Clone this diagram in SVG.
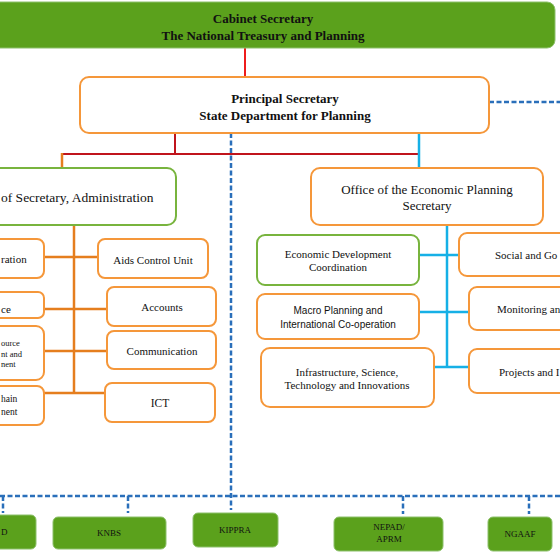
<svg xmlns="http://www.w3.org/2000/svg" width="560" height="560" viewBox="0 0 560 560">
<style>
.bg{fill:#ffffff}
.ob{fill:#ffffff;stroke:#f5973a;stroke-width:2}
.gb{fill:#ffffff;stroke:#78b43e;stroke-width:2}
.gf{fill:#5ba11c;stroke:#8cc06a;stroke-width:1}
.t{font-family:"Liberation Serif","Times New Roman",serif;fill:#111111;text-anchor:middle}
.s{font-family:"Liberation Sans",Arial,sans-serif;fill:#111111;text-anchor:middle}
.st{text-anchor:start}
.b{font-weight:bold}
.red{stroke:#ee1c1c;stroke-width:2;fill:none}
.dred{stroke:#c0141c;stroke-width:2;fill:none}
.org{stroke:#e57e1e;stroke-width:2.5;fill:none}
.cy{stroke:#16b0e6;stroke-width:2.5;fill:none}
.dash{stroke:#2a6fba;stroke-width:2.5;stroke-dasharray:5 2.5;fill:none}
</style>
<rect class="bg" x="0" y="0" width="560" height="560"/>

<g id="connectors">
  <line class="red" x1="245" y1="48" x2="245" y2="77"/>
  <line class="dash" x1="489" y1="102" x2="560" y2="102"/>
  <line class="dred" x1="175" y1="133" x2="175" y2="154"/>
  <line class="dred" x1="62" y1="154" x2="419" y2="154"/>
  <line class="org" x1="62" y1="153" x2="62" y2="168"/>
  <line class="cy" x1="419" y1="133" x2="419" y2="168"/>
  <line class="dash" x1="231" y1="133" x2="231" y2="510"/>
  <line class="dash" x1="0" y1="496" x2="560" y2="496"/>
  <line class="dash" x1="3" y1="496" x2="3" y2="513"/>
  <line class="dash" x1="128" y1="496" x2="128" y2="513"/>
  <line class="dash" x1="403" y1="496" x2="403" y2="514"/>
  <line class="dash" x1="529" y1="496" x2="529" y2="514"/>
  <line class="org" x1="74" y1="225" x2="74" y2="393"/>
  <line class="org" x1="44" y1="257" x2="98" y2="257"/>
  <line class="org" x1="44" y1="309" x2="107" y2="309"/>
  <line class="org" x1="44" y1="351" x2="107" y2="351"/>
  <line class="org" x1="44" y1="393" x2="105" y2="393"/>
  <line class="cy" x1="447" y1="225" x2="447" y2="368"/>
  <line class="cy" x1="419" y1="255" x2="459" y2="255"/>
  <line class="cy" x1="419" y1="312" x2="469" y2="312"/>
  <line class="cy" x1="434" y1="367" x2="469" y2="367"/>
</g>

<g id="cabinet">
  <rect class="gf" x="-12" y="2" width="567" height="46" rx="8"/>
  <text class="t b" x="263" y="23" font-size="13">Cabinet Secretary</text>
  <text class="t b" x="263" y="40" font-size="13">The National Treasury and Planning</text>
</g>

<g id="principal">
  <rect class="ob" x="80" y="77" width="409" height="56" rx="9"/>
  <text class="t b" x="285" y="103" font-size="13">Principal Secretary</text>
  <text class="t b" x="285" y="120" font-size="13">State Department for Planning</text>
</g>

<g id="admin">
  <rect class="gb" x="-20" y="168" width="196" height="57" rx="9"/>
  <text class="t st" x="1" y="202" font-size="13.5">of Secretary, Administration</text>
</g>

<g id="administration">
  <rect class="ob" x="-20" y="239" width="64" height="39" rx="7"/>
  <text class="t st" x="1" y="263" font-size="11">ration</text>
</g>
<g id="finance">
  <rect class="ob" x="-20" y="292" width="64" height="26" rx="6"/>
  <text class="t st" x="1" y="313" font-size="11">ce</text>
</g>
<g id="hr">
  <rect class="ob" x="-20" y="326" width="64" height="54" rx="8"/>
  <text class="t st" x="1" y="346" font-size="8.5">ource</text>
  <text class="t st" x="1" y="357" font-size="8.5">nt and</text>
  <text class="t st" x="1" y="367" font-size="8.5">nent</text>
</g>
<g id="supply">
  <rect class="ob" x="-20" y="386" width="64" height="39" rx="7"/>
  <text class="t st" x="1" y="402" font-size="9.5">hain</text>
  <text class="t st" x="1" y="415" font-size="9.5">nent</text>
</g>

<g id="aids">
  <rect class="ob" x="98" y="239" width="110" height="39" rx="7"/>
  <text class="t" x="153" y="264" font-size="11">Aids Control Unit</text>
</g>
<g id="accounts">
  <rect class="ob" x="107" y="287" width="109" height="39" rx="7"/>
  <text class="t" x="162" y="311" font-size="11">Accounts</text>
</g>
<g id="communication">
  <rect class="ob" x="107" y="331" width="109" height="38" rx="7"/>
  <text class="t" x="162" y="355" font-size="11">Communication</text>
</g>
<g id="ict">
  <rect class="ob" x="105" y="383" width="110" height="39" rx="7"/>
  <text class="t" x="160" y="407" font-size="11.5">ICT</text>
</g>

<g id="economic">
  <rect class="ob" x="311" y="168" width="232" height="57" rx="9"/>
  <text class="t" x="427" y="194" font-size="13">Office of the Economic Planning</text>
  <text class="t" x="427" y="210" font-size="13">Secretary</text>
</g>

<g id="edc">
  <rect class="gb" x="257" y="235" width="162" height="50" rx="8"/>
  <text class="t" x="338" y="258" font-size="11">Economic Development</text>
  <text class="t" x="338" y="271" font-size="11">Coordination</text>
</g>
<g id="macro">
  <rect class="ob" x="257" y="294" width="162" height="45" rx="8"/>
  <text class="s" x="338" y="314" font-size="10">Macro Planning and</text>
  <text class="s" x="338" y="328" font-size="10">International Co-operation</text>
</g>
<g id="infra">
  <rect class="ob" x="261" y="348" width="173" height="59" rx="9"/>
  <text class="t" x="347" y="376" font-size="11">Infrastructure, Science,</text>
  <text class="t" x="347" y="389" font-size="11">Technology and Innovations</text>
</g>

<g id="social">
  <rect class="ob" x="459" y="233" width="120" height="43" rx="8"/>
  <text class="t st" x="495" y="259" font-size="11">Social and Go</text>
</g>
<g id="monitoring">
  <rect class="ob" x="469" y="287" width="110" height="43" rx="8"/>
  <text class="t st" x="497" y="313" font-size="11">Monitoring an</text>
</g>
<g id="projects">
  <rect class="ob" x="469" y="349" width="110" height="44" rx="8"/>
  <text class="t st" x="499" y="376" font-size="11">Projects and I</text>
</g>

<g id="agency-d">
  <rect class="gf" x="-20" y="515" width="56" height="34" rx="5"/>
  <text class="t st" x="1" y="535" font-size="9">D</text>
</g>
<g id="knbs">
  <rect class="gf" x="53" y="517" width="113" height="32" rx="5"/>
  <text class="t" x="109" y="536" font-size="9">KNBS</text>
</g>
<g id="kippra">
  <rect class="gf" x="193" y="513" width="85" height="34" rx="5"/>
  <text class="t" x="235" y="533" font-size="9">KIPPRA</text>
</g>
<g id="nepad">
  <rect class="gf" x="334" y="517" width="109" height="34" rx="5"/>
  <text class="t" x="389" y="530" font-size="9">NEPAD/</text>
  <text class="t" x="389" y="542" font-size="9">APRM</text>
</g>
<g id="ngaaf">
  <rect class="gf" x="488" y="517" width="64" height="34" rx="5"/>
  <text class="t" x="520" y="537" font-size="9">NGAAF</text>
</g>
</svg>
